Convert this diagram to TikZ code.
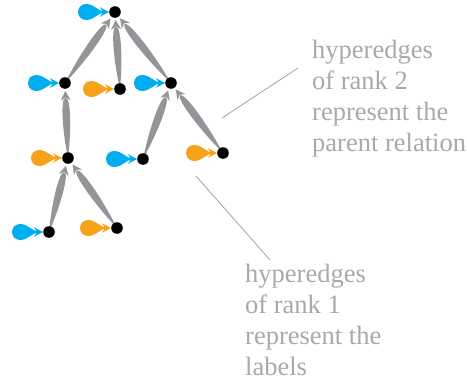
\documentclass[tikz,border=0pt]{standalone}
\usepackage{fontspec}
\setmainfont{Liberation Serif}
\usetikzlibrary{calc}
\definecolor{cblue}{RGB}{0,174,239}
\definecolor{corange}{RGB}{247,162,27}
\definecolor{egray}{RGB}{147,149,152}
\definecolor{tgray}{RGB}{167,169,172}
\definecolor{lgray}{RGB}{160,160,160}
\tikzset{
  dot/.style={circle,fill=black,minimum size=11.6pt,inner sep=0pt},
  note/.style={text=tgray,align=left,anchor=north west,inner sep=0pt,
    font=\fontsize{26.5}{31}\selectfont},
  pointer/.style={draw=lgray,line width=0.8pt},
  lab/.pic={
    \fill (-10,0) .. controls (-17,1) and (-21,8) .. (-29,8)
      arc[start angle=90,end angle=270,radius=8]
      .. controls (-21,-8) and (-17,-1) .. cycle;
    \fill (-6,0) -- (-15,4.8) -- (-12,0) -- (-15,-4.8) -- cycle;
  }
}
\begin{document}
\begin{tikzpicture}[x=1pt,y=-1pt]
\useasboundingbox (0,0) rectangle (467,383);
% vertices
\coordinate (R) at (115,12);
\coordinate (A) at (65,83);
\coordinate (B) at (120,89);
\coordinate (C) at (171,83);
\coordinate (D) at (68,158);
\coordinate (E) at (143,159);
\coordinate (F) at (223,153);
\coordinate (G) at (49,232);
\coordinate (H) at (117,228);
% rank-2 hyperedges
\foreach \c/\p in {A/R,B/R,C/R,D/A,E/C,F/C,G/D,H/D}{
  \fill[egray] (\c)
    .. controls ($(\c)!0.4!(\p)!5pt!90:(\p)$) and ($(\c)!0.82!(\p)!5pt!90:(\p)$)
    .. ($(\p)!15pt!(\c)$)
    .. controls ($(\c)!0.82!(\p)!-5pt!90:(\p)$) and ($(\c)!0.4!(\p)!-5pt!90:(\p)$)
    .. (\c) -- cycle;
  \fill[egray] ($(\p)!8pt!(\c)$) -- ($(\p)!17.5pt!(\c)!5pt!90:(\c)$)
    -- ($(\p)!14.5pt!(\c)$) -- ($(\p)!17.5pt!(\c)!-5pt!90:(\c)$) -- cycle;
}
% rank-1 hyperedges
\pic[cblue] at (R) {lab};
\pic[cblue] at (A) {lab};
\pic[corange] at (B) {lab};
\pic[cblue] at (C) {lab};
\pic[corange] at (D) {lab};
\pic[cblue] at (E) {lab};
\pic[corange] at (F) {lab};
\pic[cblue] at (G) {lab};
\pic[corange] at (H) {lab};
% dots
\foreach \n in {R,A,B,C,D,E,F,G,H}{ \node[dot] (d\n) at (\n) {}; }
% notes
\node[note] (t2) at (312,40) {hyperedges\\of rank 2\\represent the\\parent relation};
\node[note] (t1) at (245,264) {hyperedges\\of rank 1\\represent the\\labels};
\coordinate (p2a) at (222,118);
\coordinate (p2b) at (298,68);
\coordinate (p1a) at (196,176);
\coordinate (p1b) at (270,260);
\draw[pointer] (p2a) -- (p2b);
\draw[pointer] (p1a) -- (p1b);
\end{tikzpicture}
\end{document}
